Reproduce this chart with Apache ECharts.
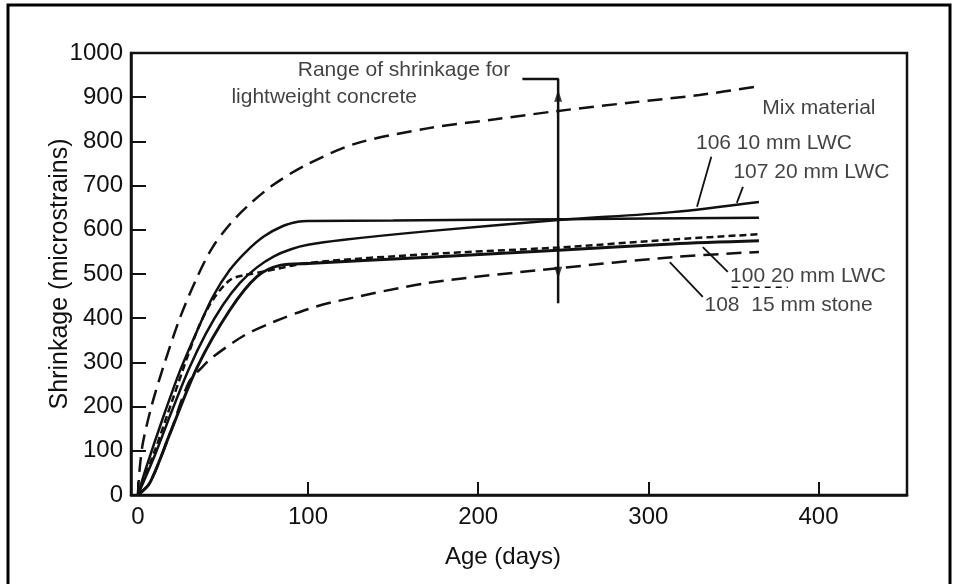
<!DOCTYPE html>
<html>
<head>
<meta charset="utf-8">
<script src="https://cdn.jsdelivr.net/npm/echarts@6/dist/echarts.min.js"></script>
<style>
html,body{margin:0;padding:0;background:#fff;}
#chart{width:959px;height:584px;}
</style>
</head>
<body>
<div id="chart"></div>
<script>
// ---- tick labels ----
const xTickValues = [0, 100, 200, 300, 400];
const yTickMin = 0, yTickMax = 1000, yTickStep = 100;

// ---- series data (Age in days, shrinkage in microstrains) ----
// upper bound of range (long dashes)
const upperDays = [0, 1, 3, 8, 15, 25, 35, 44, 54, 64, 79, 98, 128, 171, 210, 247, 290, 330, 365];
const upperVals = [0, 55, 118, 200, 290, 403, 494, 561, 612, 652, 700, 745, 795, 830, 850, 869, 888, 905, 925];
// solid line with sharp knee near 620
const mixA_Days = [0, 5, 15, 25, 35, 44, 54, 64, 74, 85, 94, 100, 150, 250, 365];
const mixA_Vals = [0, 63, 177, 283, 373, 448, 509, 552, 585, 608, 618, 620, 621, 624, 627];
// solid line rising to 663
const mixB_Days = [0, 10, 20, 30, 40, 50, 60, 70, 80, 90, 100, 120, 171, 247, 314, 365];
const mixB_Vals = [0, 90, 190, 285, 365, 430, 480, 515, 540, 556, 566, 577, 597, 622, 640, 663];
// heavy solid line flattening near 520
const mixC_Days = [0, 7, 19, 35, 54, 70, 84, 100, 171, 247, 314, 365];
const mixC_Vals = [0, 27, 140, 290, 418, 494, 520, 524, 538, 554, 568, 575];
// short-dashed line
const mixD_Days = [0, 10, 21, 35, 44, 54, 62, 75, 100, 171, 247, 314, 365];
const mixD_Vals = [0, 100, 222, 373, 441, 486, 497, 506, 525, 545, 560, 578, 590];
// lower dashed line (15 mm stone / lower bound)
const lowerDays = [0, 7, 19, 30, 38, 44, 63, 80, 98, 113, 171, 247, 314, 365];
const lowerVals = [0, 27, 140, 255, 290, 312, 362, 392, 418, 435, 480, 513, 538, 550];

// ---- annotations (data coordinates) ----
const rangeBarDays = [226, 247, 247];
const rangeBarVals = [941, 941, 434];
const rangeArrowUp = [247, 903];
const rangeArrowDown = [247, 503];
const labelTexts = ['Range of shrinkage for', 'lightweight concrete', 'Mix material', '106 10 mm LWC', '107 20 mm LWC', '100 20 mm LWC', '108  15 mm stone'];
const labelDays  = [94, 55, 367, 328, 350, 348, 333];
const labelVals  = [962, 900, 876, 796, 731, 496, 430];
const leader106 = [[337, 765], [328.6, 652]];
const leader107 = [[355.6, 697], [352, 661]];
const leader100 = [[346.7, 505], [332, 561]];
const leader108 = [[332, 448], [312.6, 527]];
const legendDash100 = [[349, 470], [382, 470]];

const INK = '#111111';
const FONT = 'Liberation Sans, Arial, sans-serif';
const pairs = (d, v) => d.map((x, i) => [x, v[i]]);

function curve(name, d, v, type, width) {
  return {
    name, type: 'line', data: pairs(d, v), showSymbol: false, symbol: 'none',
    smooth: 0.3, silent: true,
    lineStyle: { color: INK, width: width || 2.5, type: type || 'solid' }
  };
}
function seg(name, pts, width, type) {
  return {
    name, type: 'line', data: pts, showSymbol: false, symbol: 'none', silent: true,
    lineStyle: { color: INK, width: width || 1.8, type: type || 'solid' }
  };
}

const chart = echarts.init(document.getElementById('chart'), null, { renderer: 'canvas' });
chart.setOption({
  animation: false,
  backgroundColor: '#ffffff',
  grid: { left: 131, right: 52, top: 53, bottom: 89, show: true, borderColor: INK, borderWidth: 2.5, backgroundColor: 'transparent' },
  xAxis: {
    type: 'value', min: -4, max: 452,
    name: 'Age (days)', nameLocation: 'middle', nameGap: 50, nameMoveOverlap: false,
    nameTextStyle: { fontSize: 24, color: INK, fontFamily: FONT, padding: [0, 32, 0, 0] },
    axisLine: { show: true, onZero: false, lineStyle: { color: INK, width: 2.5 } },
    axisTick: { show: true, inside: true, length: 13, lineStyle: { color: INK, width: 2 }, customValues: xTickValues },
    axisLabel: { fontSize: 24, color: INK, fontFamily: FONT, margin: 10, customValues: xTickValues },
    splitLine: { show: false }
  },
  yAxis: {
    type: 'value', min: yTickMin, max: yTickMax, interval: yTickStep,
    name: 'Shrinkage (microstrains)', nameLocation: 'middle', nameGap: 58, nameMoveOverlap: false,
    nameTextStyle: { fontSize: 25, color: INK, fontFamily: FONT },
    axisLine: { show: true, onZero: false, lineStyle: { color: INK, width: 2.5 } },
    axisTick: { show: true, inside: true, length: 15, lineStyle: { color: INK, width: 2 } },
    axisLabel: { fontSize: 24, color: INK, fontFamily: FONT, margin: 8, formatter: v => String(v) },
    splitLine: { show: false }
  },
  graphic: [{
    type: 'rect', shape: { x: 8, y: 5, width: 942, height: 610 },
    style: { fill: 'none', stroke: '#000', lineWidth: 3 }, silent: true
  }],
  series: [
    curve('upper', upperDays, upperVals, [15, 8], 2.5),
    curve('mixA', mixA_Days, mixA_Vals, 'solid', 2.5),
    curve('mixB', mixB_Days, mixB_Vals, 'solid', 2.5),
    curve('mixC', mixC_Days, mixC_Vals, 'solid', 3),
    curve('mixD', mixD_Days, mixD_Vals, [7, 4], 2.5),
    curve('lower', lowerDays, lowerVals, [15, 8], 2.5),
    seg('rangeBar', pairs(rangeBarDays, rangeBarVals), 2.5),
    seg('leader106', leader106, 1.8),
    seg('leader107', leader107, 1.8),
    seg('leader100', leader100, 1.8),
    seg('leader108', leader108, 1.8),
    seg('legendDash100', legendDash100, 1.5, [6, 5]),
    {
      name: 'arrows', type: 'scatter', silent: true,
      data: [
        { value: rangeArrowUp, symbolRotate: 0 },
        { value: rangeArrowDown, symbolRotate: 180 }
      ],
      symbol: 'triangle', symbolSize: [8, 12], itemStyle: { color: INK }
    },
    {
      name: 'labels', type: 'scatter', silent: true, symbolSize: 0,
      data: labelTexts.map((t, i) => ({
        value: [labelDays[i], labelVals[i]], name: t,
        label: { show: true, position: 'right', distance: 0, formatter: t,
          fontSize: 21, color: INK, fontFamily: FONT }
      }))
    }
  ]
});
</script>
</body>
</html>
